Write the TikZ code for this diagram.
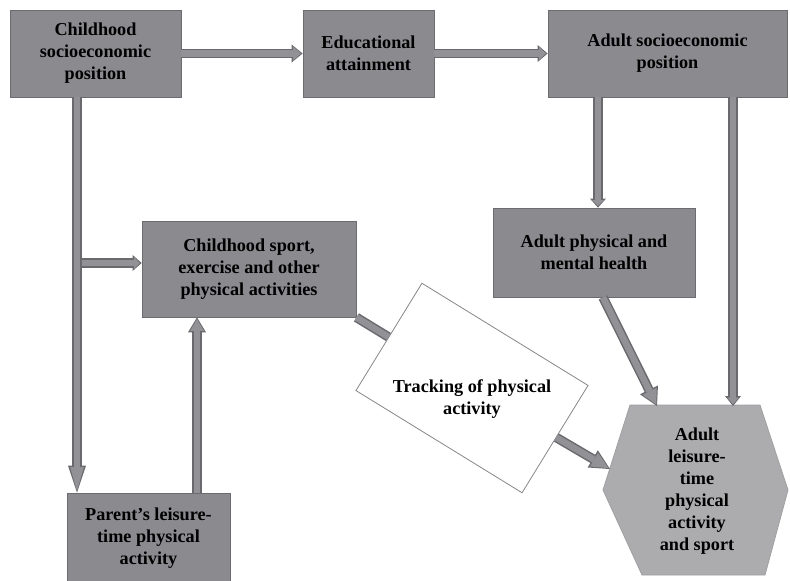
\documentclass[tikz,border=0pt]{standalone}
\usepackage{fontspec}
\setmainfont{Liberation Serif}
\usetikzlibrary{arrows.meta,calc}
\definecolor{boxfill}{RGB}{138,138,143}
\definecolor{boxedge}{RGB}{108,108,112}
\definecolor{hexfill}{RGB}{172,172,174}
\definecolor{hexedge}{RGB}{160,160,162}
\definecolor{arrfill}{RGB}{145,145,150}
\definecolor{arredge}{RGB}{105,105,110}
\definecolor{trackedge}{RGB}{135,135,138}
\newcommand{\fatarr}[3]{%
  \draw[aout,-{Triangle[length=#1pt,width=#2pt,line width=0pt]}] #3;
  \pgfmathsetmacro{\fLi}{#1-3.2}\pgfmathsetmacro{\fWi}{#2-4.2}%
  \draw[ain,shorten >=1.7pt,-{Triangle[length=\fLi pt,width=\fWi pt,line width=0pt]}] #3;}
\tikzset{
  txt/.style={align=center,font=\bfseries\fontsize{18.2}{22}\selectfont,text=black},
  gbox/.style={txt,draw=boxedge,fill=boxfill,line width=0.8pt,inner sep=0pt},
  aout/.style={draw=arredge,line width=9.5pt},
  ain/.style={draw=arrfill,line width=6.5pt},
}
\begin{document}
\begin{tikzpicture}[x=1pt,y=1pt]
\useasboundingbox (0,0) rectangle (790,-581);
\fill[white] (0,0) rectangle (790,-581);
% boxes
\node[gbox,minimum width=171pt,minimum height=87pt] (csep) at (95.5,-53.5) {Childhood\\socioeconomic\\position};
\node[gbox,minimum width=131pt,minimum height=87pt] (edu) at (368.5,-53.5) {Educational\\attainment};
\node[gbox,minimum width=239pt,minimum height=87pt] (asep) at (667.5,-53.5) {Adult socioeconomic\\position};
\node[gbox,minimum width=214pt,minimum height=96pt] (sport) at (249,-269) {Childhood sport,\\exercise and other\\physical activities};
\node[gbox,minimum width=202pt,minimum height=89pt] (health) at (594,-252.5) {Adult physical and\\mental health};
\node[gbox,minimum width=163pt,minimum height=90pt] (parent) at (148.5,-538) {Parent’s leisure-\\time physical\\activity};
% tracking
\node[draw=trackedge,fill=white,line width=0.8pt,minimum width=195pt,minimum height=126pt,inner sep=0pt,rotate=-31.6] (track) at (472,-388) {};
\node[txt] (tracktxt) at (472,-399) {Tracking of physical\\activity};
% hexagon
\draw[fill=hexfill,draw=hexedge,line width=0.8pt] (630,-405) -- (760,-405) -- (788,-490) -- (765,-575) -- (642,-575) -- (603,-490) -- cycle;
\node[txt] (hex) at (697,-491) {Adult\\leisure-\\time\\physical\\activity\\and sport};
% coordinates
\coordinate (cx) at (77,0);
\coordinate (br) at (77,-263);
\coordinate (px) at (197,0);
\coordinate (hx) at (598,0);
\coordinate (hT1) at (657,-406);
\coordinate (hT2) at (733,-406);
\coordinate (hL) at (610,-469);
% connectors
\fatarr{11}{18}{(csep.east) -- (edu.west)}
\fatarr{10}{17}{(edu.east) -- (asep.west)}
\fatarr{9}{16}{(br) -- (br -| sport.west)}
\fatarr{27}{18}{(csep.south -| cx) -- (parent.north -| cx)}
\fatarr{15}{18}{(parent.north -| px) -- (sport.south -| px)}
\fatarr{9}{16}{(asep.south -| hx) -- (health.north -| hx)}
\fatarr{10}{16}{(asep.south -| hT2) -- (hT2)}
\fatarr{18}{20}{([xshift=9pt]health.south) -- (hT1)}
\draw[aout] (sport.south east) -- (track);
\draw[ain] (sport.south east) -- (track);
\fatarr{20}{20}{(track) -- (hL)}
\end{tikzpicture}
\end{document}
